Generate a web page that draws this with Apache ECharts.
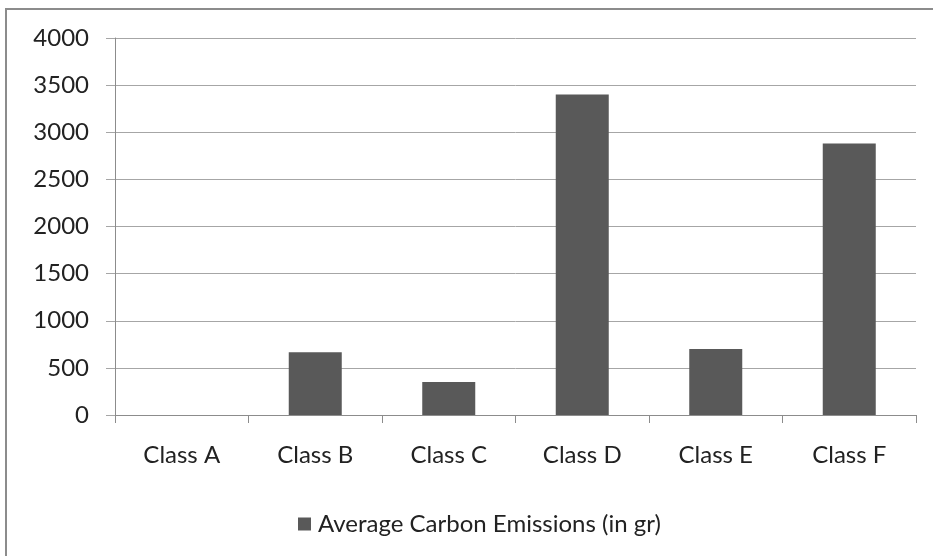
<!DOCTYPE html>
<html>
<head>
<meta charset="utf-8">
<script src="https://cdn.jsdelivr.net/npm/echarts@6/dist/echarts.min.js"></script>
<style>
  html, body { margin: 0; padding: 0; background: #fff; }
  #chart { width: 933px; height: 556px; }
</style>
</head>
<body>
<div id="chart"></div>
<script>
// Vehicle classes and their average carbon emissions (grams)
const categories = ['Class A', 'Class B', 'Class C', 'Class D', 'Class E', 'Class F'];
const emissions = [0, 665, 350, 3400, 700, 2880];
const seriesName = 'Average Carbon Emissions (in gr)';
const yMin = 0, yMax = 4000, yStep = 500;

const font = 'Lato, "Open Sans", sans-serif';
const chart = echarts.init(document.getElementById('chart'), null, { renderer: 'canvas' });

chart.setOption({
  animation: false,
  backgroundColor: '#fff',
  textStyle: { fontFamily: font },
  graphic: [{
    type: 'rect',
    shape: { x: 6, y: 9, width: 1000, height: 700 },
    style: { fill: 'none', stroke: '#8c8c8c', lineWidth: 2 },
    silent: true
  }],
  grid: { left: 115, right: 17, top: 38, bottom: 141, containLabel: false },
  legend: {
    data: [seriesName],
    left: 293,
    top: 507,
    icon: 'rect',
    itemWidth: 13,
    itemHeight: 13,
    itemGap: 8,
    textStyle: { fontFamily: font, fontSize: 24, color: '#222', padding: [0, 0, 0, 2] }
  },
  xAxis: {
    type: 'category',
    data: categories,
    boundaryGap: true,
    axisLine: { lineStyle: { color: '#8c8c8c', width: 1 } },
    axisTick: { show: true, length: 8, lineStyle: { color: '#8c8c8c' } },
    axisLabel: { margin: 28, fontFamily: font, fontSize: 24, color: '#222' }
  },
  yAxis: {
    type: 'value',
    min: yMin,
    max: yMax,
    interval: yStep,
    axisLine: { show: true, lineStyle: { color: '#8c8c8c', width: 1 } },
    axisTick: { show: true, length: 9, lineStyle: { color: '#a6a6a6' } },
    axisLabel: {
      margin: 26, fontFamily: font, fontSize: 24, color: '#222',
      formatter: v => String(v)
    },
    splitLine: { show: true, lineStyle: { color: '#a6a6a6', width: 1 } }
  },
  series: [{
    name: seriesName,
    type: 'bar',
    data: emissions,
    barWidth: 53,
    itemStyle: { color: '#595959' }
  }]
});
</script>
</body>
</html>
